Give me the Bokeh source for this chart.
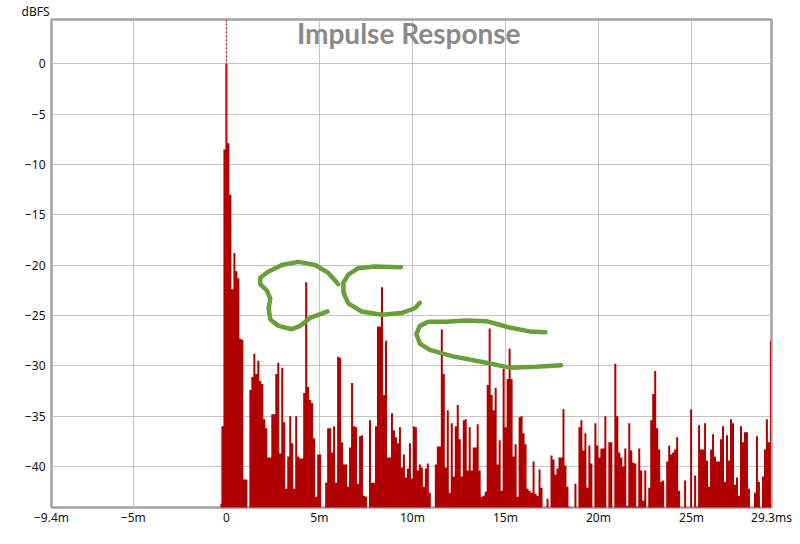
from bokeh.plotting import figure
from bokeh.models import Range1d, FixedTicker, Span, Label
from bokeh.embed import file_html
from bokeh.resources import INLINE

# ---------------- data ----------------
# impulse response magnitude, sampled every SAMPLE_STEP_MS starting at SAMPLE_START_MS
SAMPLE_START_MS = -0.32
SAMPLE_STEP_MS = 0.1072

ir_db_0_5ms = [
    -43.7, -36.0, -8.5, 0.0, -7.9, -13.0, -22.4, -18.8, -20.6, -21.3,
    -27.3, -27.4, -41.3, -41.3, -45.0, -32.4, -31.1, -28.8, -30.8, -29.5,
    -31.5, -31.8, -35.3, -36.2, -39.1, -39.1, -34.8, -34.8, -30.8, -29.7,
    -38.7, -30.2, -35.6, -42.2, -39.0, -35.0, -37.7, -42.2, -35.0, -39.0,
    -39.2, -39.2, -32.7, -21.7, -32.1, -33.4, -33.7, -37.2, -43.0, -38.8,
]
ir_db_5_10ms = [
    -38.8, -45.0, -45.0, -41.6, -36.2, -36.2, -38.6, -36.0, -41.6, -29.1,
    -29.2, -37.6, -39.8, -39.8, -42.0, -38.1, -31.7, -36.0, -36.1, -41.7,
    -37.0, -36.9, -42.9, -43.0, -45.0, -35.4, -41.6, -41.6, -36.0, -26.1,
    -26.1, -22.2, -32.9, -27.5, -39.1, -39.1, -34.7, -36.4, -37.1, -37.7,
    -36.1, -40.1, -38.8, -41.1, -40.2, -37.7, -41.2, -36.0, -36.1, -40.4,
    -39.8, -40.1,
]
ir_db_10_16ms = [
    -42.0, -40.2, -39.7, -42.6, -45.0, -45.0, -39.8, -38.0, -38.0, -26.4,
    -30.8, -40.1, -34.4, -42.6, -35.7, -41.0, -36.0, -33.9, -37.3, -41.0,
    -35.4, -35.3, -40.4, -36.1, -40.4, -38.1, -38.1, -35.8, -40.4, -43.0,
    -42.9, -42.5, -31.9, -26.3, -32.9, -34.4, -32.2, -39.8, -37.4, -42.4,
    -30.3, -36.1, -31.3, -28.3, -31.3, -39.0, -37.8, -43.0, -35.1, -35.0,
]
ir_db_16_21ms = [
    -36.7, -37.8, -42.2, -42.4, -42.6, -39.5, -42.7, -42.9, -40.3, -42.1,
    -45.0, -45.0, -43.2, -45.0, -38.9, -39.3, -40.8, -40.2, -39.1, -39.1,
    -34.3, -39.9, -42.0, -44.0, -45.0, -45.0, -41.7, -45.0, -36.1, -35.4,
    -38.4, -36.7, -42.1, -37.9, -39.7, -45.0, -35.7, -37.9, -39.1, -38.2,
    -38.2, -35.0, -45.0, -37.6, -37.6, -45.0, -29.8, -35.0, -38.6, -39.1,
]
ir_db_21_27ms = [
    -40.0, -38.2, -43.9, -35.7, -38.4, -39.6, -39.7, -44.0, -38.2, -40.4,
    -43.4, -40.4, -45.0, -42.1, -35.4, -32.8, -30.5, -36.2, -38.3, -41.5,
    -41.4, -45.0, -39.5, -37.9, -38.8, -38.6, -38.3, -37.1, -42.4, -45.0,
    -45.0, -41.4, -45.0, -45.0, -34.3, -45.0, -40.9, -44.0, -35.9, -38.3,
    -38.3, -35.7, -39.4, -42.0, -38.3, -36.8, -39.0, -39.5, -39.5, -37.3,
]
ir_db_27_29ms = [
    -36.0, -41.5, -36.9, -39.4, -35.3, -35.7, -41.8, -41.1, -42.9, -36.0,
    -37.6, -36.6, -36.6, -42.2, -45.0, -45.0, -42.6, -37.0, -41.5, -45.0,
    -41.0, -38.3, -35.3, -37.6, -27.5,
]

# hand-drawn green annotation strokes (ms, dBFS)
green1_ms = [6.02, 5.48, 4.77, 3.87, 2.98, 2.27, 1.82, 1.82, 2.18, 2.36, 2.27, 2.36, 2.80, 3.52, 3.97, 4.50, 5.04, 5.44]
green1_db = [-21.89, -20.77, -19.98, -19.67, -19.98, -20.62, -21.25, -21.89, -22.53, -23.33, -24.28, -25.40, -26.03, -26.36, -26.03, -25.24, -24.86, -24.60]
green2_ms = [9.38, 7.99, 7.09, 6.55, 6.29, 6.29, 6.55, 7.27, 8.34, 9.41, 10.13, 10.40]
green2_db = [-20.20, -20.14, -20.30, -20.94, -21.73, -22.69, -23.80, -24.60, -24.92, -24.76, -24.28, -23.74]
green3_ms = [17.15, 16.29, 15.22, 13.97, 12.89, 11.82, 10.84, 10.40, 10.21, 10.40, 10.93, 12.18, 13.97, 15.22, 16.65, 17.99]
green3_db = [-26.67, -26.58, -26.20, -25.56, -25.50, -25.62, -25.62, -26.03, -26.84, -27.79, -28.42, -29.06, -29.70, -30.18, -30.09, -29.95]

x_tick_values = [-9.4, -5, 0, 5, 10, 15, 20, 25, 29.3]
x_tick_labels = ["\u22129.4m", "\u22125m", "0", "5m", "10m", "15m", "20m", "25m", "29.3ms"]
y_tick_values = [0, -5, -10, -15, -20, -25, -30, -35, -40]
y_tick_labels = ["0", "\u22125", "\u221210", "\u221215", "\u221220", "\u221225", "\u221230", "\u221235", "\u221240"]

title_text = "Impulse Response"
y_unit_text = "dBFS"

# ---------------- build ----------------
ir_db = ir_db_0_5ms + ir_db_5_10ms + ir_db_10_16ms + ir_db_16_21ms + ir_db_21_27ms + ir_db_27_29ms
ir_ms = [SAMPLE_START_MS + i * SAMPLE_STEP_MS for i in range(len(ir_db))]
ir_floor = [-46.0] * len(ir_db)

RED = "#b10000"
GREEN = "#6a9e3a"

p = figure(width=792, height=528, output_backend="svg", toolbar_location=None,
           x_range=Range1d(-9.4, 29.3), y_range=Range1d(-44.07, 4.40),
           min_border_left=51, min_border_right=21, min_border_top=0, min_border_bottom=14,
           background_fill_color="white", border_fill_color="white")

# "dBFS" unit label above the y axis, drawn as the plot title
p.title.text = y_unit_text
p.title.align = "left"
p.title.offset = -30
p.title.standoff = 0
p.title.text_line_height = 1.0
p.title.text_font = "Noto Sans"
p.title.text_font_size = "12px"
p.title.text_font_style = "normal"
p.title.text_color = "#111111"

p.outline_line_color = "#a3a3a3"
p.outline_line_width = 2.5

p.xaxis.ticker = FixedTicker(ticks=x_tick_values)
p.yaxis.ticker = FixedTicker(ticks=y_tick_values)
p.xaxis.major_label_overrides = dict(zip(x_tick_values, x_tick_labels))
p.yaxis.major_label_overrides = dict(zip(y_tick_values, y_tick_labels))

for ax in (p.xaxis, p.yaxis):
    ax.axis_line_color = None
    ax.major_tick_line_color = None
    ax.minor_tick_line_color = None
    ax.major_tick_out = 0
    ax.major_tick_in = 0
    ax.minor_tick_out = 0
    ax.minor_tick_in = 0
    ax.axis_label_standoff = 0
    ax.major_label_text_font = "Noto Sans"
    ax.major_label_text_font_size = "12px"
    ax.major_label_text_color = "#111111"
    ax.major_label_text_line_height = 1.0
p.xaxis.major_label_standoff = 1
p.yaxis.major_label_standoff = 6

p.xgrid.grid_line_color = "#c4c4c4"
p.ygrid.grid_line_color = "#c4c4c4"
p.xgrid.grid_line_width = 1
p.ygrid.grid_line_width = 1

try:
    p.varea_step(x=ir_ms, y1=ir_floor, y2=ir_db, step_mode="center", fill_color=RED)
except AttributeError:
    p.vbar(x=ir_ms, top=ir_db, bottom=ir_floor, width=SAMPLE_STEP_MS * 1.05,
           fill_color=RED, line_color=None)

p.add_layout(Span(location=0, dimension="height", line_color="#e00000",
                  line_width=1, line_dash="2 2"))

for xs, ys in ((green1_ms, green1_db), (green2_ms, green2_db), (green3_ms, green3_db)):
    p.line(xs, ys, line_color=GREEN, line_width=4.5, line_cap="round", line_join="round")

p.add_layout(Label(x=9.80, y=3.05, text=title_text, text_align="center",
                   text_baseline="alphabetic", text_font="Lato", text_font_style="bold",
                   text_font_size="28px", text_color="#8a8a8a"))

open("out.html", "w").write(file_html(p, INLINE))
